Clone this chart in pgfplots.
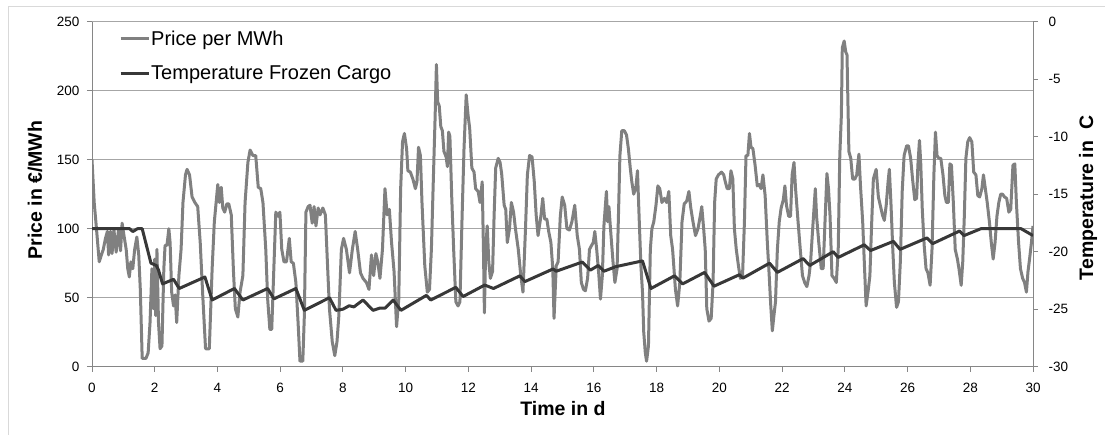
\documentclass[border=0pt]{standalone}
\usepackage{fontspec}
\setmainfont{Liberation Sans}
\usepackage{pgfplots}
\pgfplotsset{compat=1.18}
\definecolor{pricecol}{RGB}{128,128,128}
\definecolor{tempcol}{RGB}{56,56,56}
\definecolor{gridcol}{RGB}{166,166,166}
\definecolor{axiscol}{RGB}{134,134,134}
\definecolor{framecol}{RGB}{217,217,217}
\pgfplotsset{
  common/.style={
    at={(92pt,68.3pt)}, anchor=south west,
    scale only axis, width=941pt, height=345pt,
    xmin=0, xmax=30,
    axis line style={-, axiscol, line width=1pt},
    tick align=outside, major tick length=5pt,
    tick style={axiscol, line width=1pt},
    tick label style={font=\fontsize{13.5}{16}\selectfont, black},
    /pgf/number format/assume math mode=true,
    label style={font=\bfseries\fontsize{19.5}{23}\selectfont, black},
  }
}
\begin{document}
\begin{tikzpicture}[x=1pt,y=1pt]
\useasboundingbox (0,0) rectangle (1105,435);
\draw[framecol, line width=1pt] (8,0) -- (8,428) -- (1105,428);
\begin{axis}[common,
  ymin=0, ymax=250,
  axis x line*=bottom, axis y line*=left,
  xtick={0,2,...,30}, ytick={0,50,...,250},
  xticklabel style={yshift=-8pt},
  yticklabel style={xshift=-4pt},
  ymajorgrids, major grid style={gridcol, line width=1pt},
  xlabel={Time in d},
  xlabel style={at={(axis description cs:0.5005,-0.1226)}, anchor=center},
  ylabel={Price in €/MWh},
  ylabel style={at={(axis description cs:-0.0606,0.512)}, anchor=center},
  legend style={draw=none, fill=none, at={(axis description cs:0.0287,0.9855)}, anchor=north west,
    inner xsep=0pt, nodes={inner xsep=1pt},
    font=\fontsize{20}{24}\selectfont, row sep=15pt},
  legend cell align=left,
  legend image code/.code={\draw[#1] (0pt,0pt) -- (28pt,0pt);},
]
\addplot[pricecol, line width=3pt, line join=round] coordinates {
(0.00,150) (0.07,119) (0.15,98) (0.23,76) (0.30,81) (0.36,85) (0.43,93) (0.49,98) (0.53,81) (0.59,98)
(0.64,82) (0.70,99) (0.77,83) (0.85,100) (0.91,84) (0.96,104) (1.02,95) (1.09,85) (1.14,71) (1.19,65)
(1.24,76) (1.30,71) (1.36,85) (1.43,94) (1.49,81) (1.54,56) (1.60,6) (1.72,6) (1.79,10) (1.85,32)
(1.91,71) (1.96,42) (2.00,78) (2.03,37) (2.07,85) (2.12,32) (2.17,13) (2.23,15) (2.29,71) (2.33,88)
(2.39,88) (2.45,100) (2.49,90) (2.54,54) (2.60,44) (2.65,52) (2.70,32) (2.77,66) (2.84,85) (2.90,119)
(2.98,139) (3.03,143) (3.11,139) (3.19,123) (3.28,119) (3.37,116) (3.45,90) (3.53,52) (3.62,13) (3.74,13)
(3.83,71) (3.90,105) (4.01,132) (4.06,119) (4.12,130) (4.17,115) (4.23,112) (4.30,118) (4.36,118) (4.44,110)
(4.51,69) (4.57,42) (4.65,36) (4.72,54) (4.81,66) (4.88,119) (4.97,148) (5.04,157)
(5.13,153) (5.22,153) (5.30,130) (5.38,129) (5.45,119) (5.54,85) (5.60,49) (5.67,27) (5.73,27) (5.80,73)
(5.86,112) (5.93,109) (5.99,112) (6.05,85) (6.12,76) (6.20,76) (6.29,93) (6.35,76) (6.42,75) (6.50,61)
(6.57,32) (6.63,4) (6.72,4) (6.77,37) (6.82,112) (6.89,116) (6.95,117) (7.02,104) (7.08,116) (7.14,102)
(7.21,115) (7.27,110) (7.36,115) (7.44,110) (7.51,73) (7.57,42) (7.66,18) (7.74,8) (7.81,18) (7.87,37)
(7.95,85) (8.02,93) (8.11,85) (8.21,68) (8.30,85) (8.39,98) (8.47,85) (8.56,68) (8.64,64) (8.75,61)
(8.83,56) (8.91,81) (8.98,66) (9.05,82) (9.11,76) (9.18,64) (9.26,85) (9.34,129) (9.41,110) (9.48,114)
(9.55,90) (9.63,69) (9.71,29) (9.78,49) (9.84,129) (9.90,163) (9.96,169) (10.03,158)
(10.07,142) (10.15,141) (10.23,136) (10.31,129) (10.36,134) (10.41,159) (10.47,153) (10.52,119) (10.61,73) (10.69,54)
(10.76,56) (10.82,85) (10.88,134) (10.94,182) (10.98,219) (11.02,192) (11.07,189) (11.12,174) (11.17,171) (11.22,156)
(11.29,152) (11.33,145) (11.37,170) (11.41,167) (11.47,122) (11.53,85) (11.60,47) (11.67,44) (11.73,47) (11.80,110)
(11.86,158) (11.93,197) (11.99,182) (12.04,173) (12.11,144) (12.18,141) (12.23,129) (12.31,127) (12.37,119) (12.44,134)
(12.48,85) (12.51,39) (12.55,85) (12.60,102) (12.65,76) (12.70,64) (12.77,69) (12.82,110) (12.87,144) (12.95,151)
(13.01,148) (13.06,140) (13.14,117) (13.19,114) (13.24,90) (13.31,100) (13.37,119) (13.44,112) (13.50,100) (13.59,85)
(13.67,66) (13.74,54) (13.82,100) (13.88,139) (13.95,153) (14.03,152) (14.10,134) (14.16,110) (14.22,95) (14.31,109)
(14.37,122) (14.43,107) (14.50,107) (14.56,98) (14.63,90) (14.69,71) (14.73,35) (14.80,73) (14.86,76) (14.93,109)
(14.99,123)
(15.07,117) (15.14,100) (15.22,99) (15.30,105) (15.39,117) (15.47,95) (15.54,85) (15.60,61) (15.67,56) (15.73,55)
(15.80,64) (15.86,85) (15.93,88) (15.98,90) (16.03,98) (16.09,85) (16.16,66) (16.21,49) (16.27,66) (16.32,102)
(16.40,127) (16.44,105) (16.48,116) (16.53,100) (16.61,76) (16.67,61) (16.74,71) (16.79,115) (16.83,153) (16.89,171)
(16.97,171) (17.04,168) (17.10,158) (17.16,144) (17.21,134) (17.27,125) (17.34,130) (17.39,142) (17.44,110) (17.50,73)
(17.55,54) (17.59,25) (17.64,10) (17.68,4) (17.74,15) (17.80,85) (17.85,100) (17.91,105) (17.98,117) (18.04,131)
(18.10,129) (18.17,119) (18.25,122) (18.32,119) (18.39,127) (18.45,95) (18.51,85) (18.60,56) (18.67,44) (18.74,61)
(18.81,105) (18.88,118) (18.96,120) (19.03,127) (19.09,115) (19.16,105) (19.24,95) (19.32,100) (19.39,109) (19.44,116)
(19.50,100) (19.55,85) (19.60,42) (19.67,33) (19.74,35) (19.80,61) (19.85,119) (19.90,136) (19.97,139)
(20.07,141) (20.14,139) (20.19,134) (20.25,129) (20.32,129) (20.37,142) (20.43,136) (20.48,100) (20.54,85) (20.61,73)
(20.67,64) (20.74,66) (20.80,105) (20.85,153) (20.91,153) (20.96,169) (21.01,159) (21.07,158) (21.14,146) (21.21,131)
(21.27,132) (21.33,129) (21.39,139) (21.46,124) (21.53,90) (21.59,66) (21.64,44) (21.69,26) (21.74,37) (21.79,47)
(21.85,85) (21.91,105) (21.97,115) (22.04,121) (22.09,131) (22.14,117) (22.21,109) (22.27,109) (22.32,139) (22.38,148)
(22.43,129) (22.51,105) (22.58,85) (22.65,66) (22.72,61) (22.79,58) (22.86,66) (22.91,76) (22.97,98) (23.06,129)
(23.10,109) (23.17,90) (23.25,71) (23.31,71) (23.36,100) (23.43,140) (23.48,129) (23.53,109) (23.59,66) (23.66,64)
(23.73,61) (23.79,85) (23.84,153) (23.89,182) (23.92,231) (23.98,236) (24.03,228) (24.07,226) (24.13,156) (24.19,151)
(24.25,136) (24.32,136) (24.38,139) (24.45,154) (24.50,131) (24.57,105) (24.63,71) (24.68,44) (24.75,56) (24.80,66)
(24.85,100) (24.91,136)
(25.00,143) (25.07,123) (25.13,117) (25.20,110) (25.26,106) (25.32,117) (25.38,134) (25.42,143) (25.47,119) (25.53,85)
(25.58,61) (25.65,43) (25.71,47) (25.77,76) (25.83,127) (25.89,153) (25.97,160) (26.03,160) (26.10,151) (26.16,136)
(26.23,121) (26.29,122) (26.33,146) (26.38,164) (26.42,148) (26.47,114) (26.53,88) (26.59,71) (26.65,68) (26.72,59)
(26.78,85) (26.84,139) (26.89,170) (26.94,153) (27.00,151) (27.06,151) (27.13,139) (27.19,124) (27.24,119) (27.30,119)
(27.35,147) (27.40,146) (27.46,119) (27.52,85) (27.59,78) (27.64,71) (27.71,59) (27.76,76) (27.81,109) (27.86,151)
(27.92,163) (27.98,166) (28.05,163) (28.11,141) (28.18,139) (28.24,124) (28.30,123) (28.37,129) (28.42,139) (28.48,129)
(28.54,119) (28.61,105) (28.67,90) (28.73,78) (28.79,90) (28.85,109) (28.91,119) (28.97,125) (29.03,125) (29.09,123)
(29.16,122) (29.23,112) (29.29,114) (29.36,146) (29.42,147) (29.47,119) (29.54,90) (29.60,71) (29.67,64) (29.73,61)
(29.79,54) (29.84,69) (29.89,78) (29.95,90) (30.00,102)
};
\addlegendentry{Price per MWh}
\addlegendimage{tempcol, line width=3pt}
\addlegendentry{Temperature Frozen Cargo}
\end{axis}
\begin{axis}[common,
  ymin=-30, ymax=0,
  axis x line=none, axis y line*=right,
  ytick={-30,-25,...,0},
  yticklabel style={xshift=7pt},
  ylabel={Temperature in~~C},
  ylabel style={at={(axis description cs:1.0584,0.489)}, anchor=center, rotate=0},
]
\addplot[tempcol, line width=3pt, line join=round] coordinates {
(0,-18) (1.2,-18) (1.3,-18.25) (1.45,-18) (1.6,-18) (1.88,-21) (2.05,-21.2) (2.12,-21.6) (2.25,-22.8)
(2.6,-22.4) (2.78,-23.2) (3.6,-22.2) (3.83,-24.2) (4.54,-23.2) (4.81,-24.2) (5.6,-23.2) (5.8,-24.1)
(6.5,-23.2) (6.77,-25.1) (7.57,-24.0) (7.78,-25.1) (8.0,-25.0) (8.2,-24.7) (8.35,-24.8) (8.64,-24.2)
(8.96,-25.1) (9.18,-24.9) (9.35,-24.9) (9.6,-24.2) (9.85,-25.1) (10.66,-23.8) (10.8,-24.2) (11.6,-23.1)
(11.83,-23.9) (12.52,-22.9) (12.8,-23.2) (13.64,-22.1) (13.8,-22.6) (14.7,-21.5) (14.8,-21.7) (15.63,-20.9)
(15.89,-21.6) (16.14,-21.2) (16.32,-21.7) (16.7,-21.3) (17.55,-20.8) (17.82,-23.2) (18.57,-22.1) (18.83,-22.8)
(19.53,-21.8) (19.83,-23.0) (20.64,-22.0) (20.75,-22.3) (21.6,-21.0) (21.85,-21.8) (22.67,-20.6) (22.88,-21.2)
(23.63,-20.0) (23.79,-20.5) (24.62,-19.4) (24.82,-19.9) (25.55,-19.1) (25.76,-19.8) (26.62,-18.8) (26.8,-19.3)
(27.66,-18.2) (27.8,-18.6) (28.34,-18) (29.62,-18) (30,-18.6)
};
\end{axis}
\end{tikzpicture}
\end{document}
